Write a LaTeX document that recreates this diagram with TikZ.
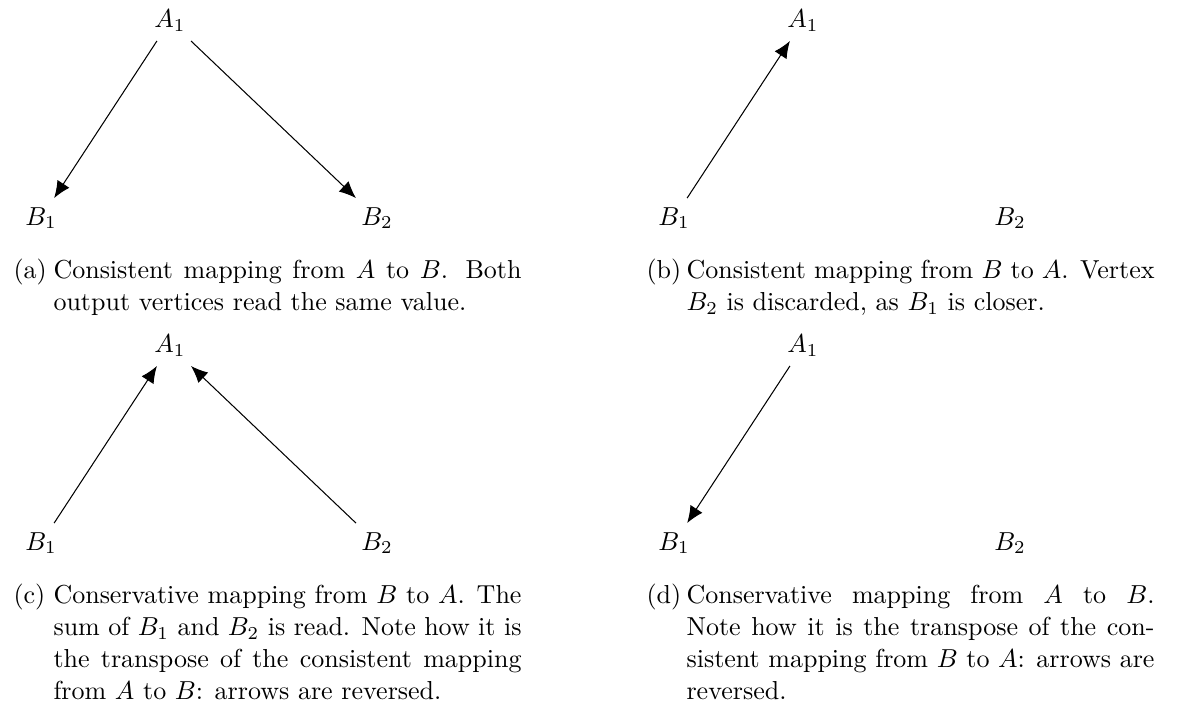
\documentclass[tikz,border=0pt]{standalone}
\usepackage{tikz}
\usetikzlibrary{arrows.meta,positioning}

\begin{document}
\begin{tikzpicture}[x=0.3846pt, y=-0.3846pt, on grid,
    vtx/.style={inner sep=3.33pt},
    arr/.style={-{Latex[length=6.5pt,width=5.5pt]}},
    caplbl/.style={inner sep=0pt, anchor=base west},
    captxt/.style={inner sep=0pt, anchor=base west, text width=180pt, align=justify,
        font=\fontsize{10}{12.2}\selectfont}]

    \useasboundingbox (0,0) rectangle (1178,707);

    % (a)
    \node[vtx] (aA) at (170,21) {$A_1$};
    \node[vtx, below left=75.8pt and 49.6pt of aA] (aB1) {$B_1$};
    \node[vtx, below right=75.8pt and 79.6pt of aA] (aB2) {$B_2$};
    \draw[arr] (aA) -- (aB1);
    \draw[arr] (aA) -- (aB2);
    \node[caplbl] (capAlbl) at (13,279) {(a)};
    \node[captxt] (capA) at (53,279) {Consistent mapping from $A$ to $B$. Both\linebreak
        output vertices read the same value.};

    % (b)
    \node[vtx] (bA) at (803,21) {$A_1$};
    \node[vtx, below left=75.8pt and 49.6pt of bA] (bB1) {$B_1$};
    \node[vtx, below right=75.8pt and 79.6pt of bA] (bB2) {$B_2$};
    \draw[arr] (bB1) -- (bA);
    \node[caplbl] (capBlbl) at (646,279) {(b)};
    \node[captxt] (capB) at (686,279) {Consistent mapping from $B$ to $A$. Vertex\linebreak
        $B_2$ is discarded, as $B_1$ is closer.};

    % (c)
    \node[vtx] (cA) at (170,346) {$A_1$};
    \node[vtx, below left=75.8pt and 49.6pt of cA] (cB1) {$B_1$};
    \node[vtx, below right=75.8pt and 79.6pt of cA] (cB2) {$B_2$};
    \draw[arr] (cB1) -- (cA);
    \draw[arr] (cB2) -- (cA);
    \node[caplbl] (capClbl) at (13,604) {(c)};
    \node[captxt] (capC) at (53,604) {Conservative mapping from $B$ to $A$. The\linebreak
        sum of $B_1$ and $B_2$ is read. Note how it is\linebreak
        the transpose of the consistent mapping\linebreak
        from $A$ to $B$: arrows are reversed.};

    % (d)
    \node[vtx] (dA) at (803,346) {$A_1$};
    \node[vtx, below left=75.8pt and 49.6pt of dA] (dB1) {$B_1$};
    \node[vtx, below right=75.8pt and 79.6pt of dA] (dB2) {$B_2$};
    \draw[arr] (dA) -- (dB1);
    \node[caplbl] (capDlbl) at (646,604) {(d)};
    \node[captxt] (capD) at (686,604) {Conservative mapping from $A$ to $B$.\linebreak
        Note how it is the transpose of the con-\linebreak
        sistent mapping from $B$ to $A$: arrows are\linebreak
        reversed.};
\end{tikzpicture}
\end{document}
